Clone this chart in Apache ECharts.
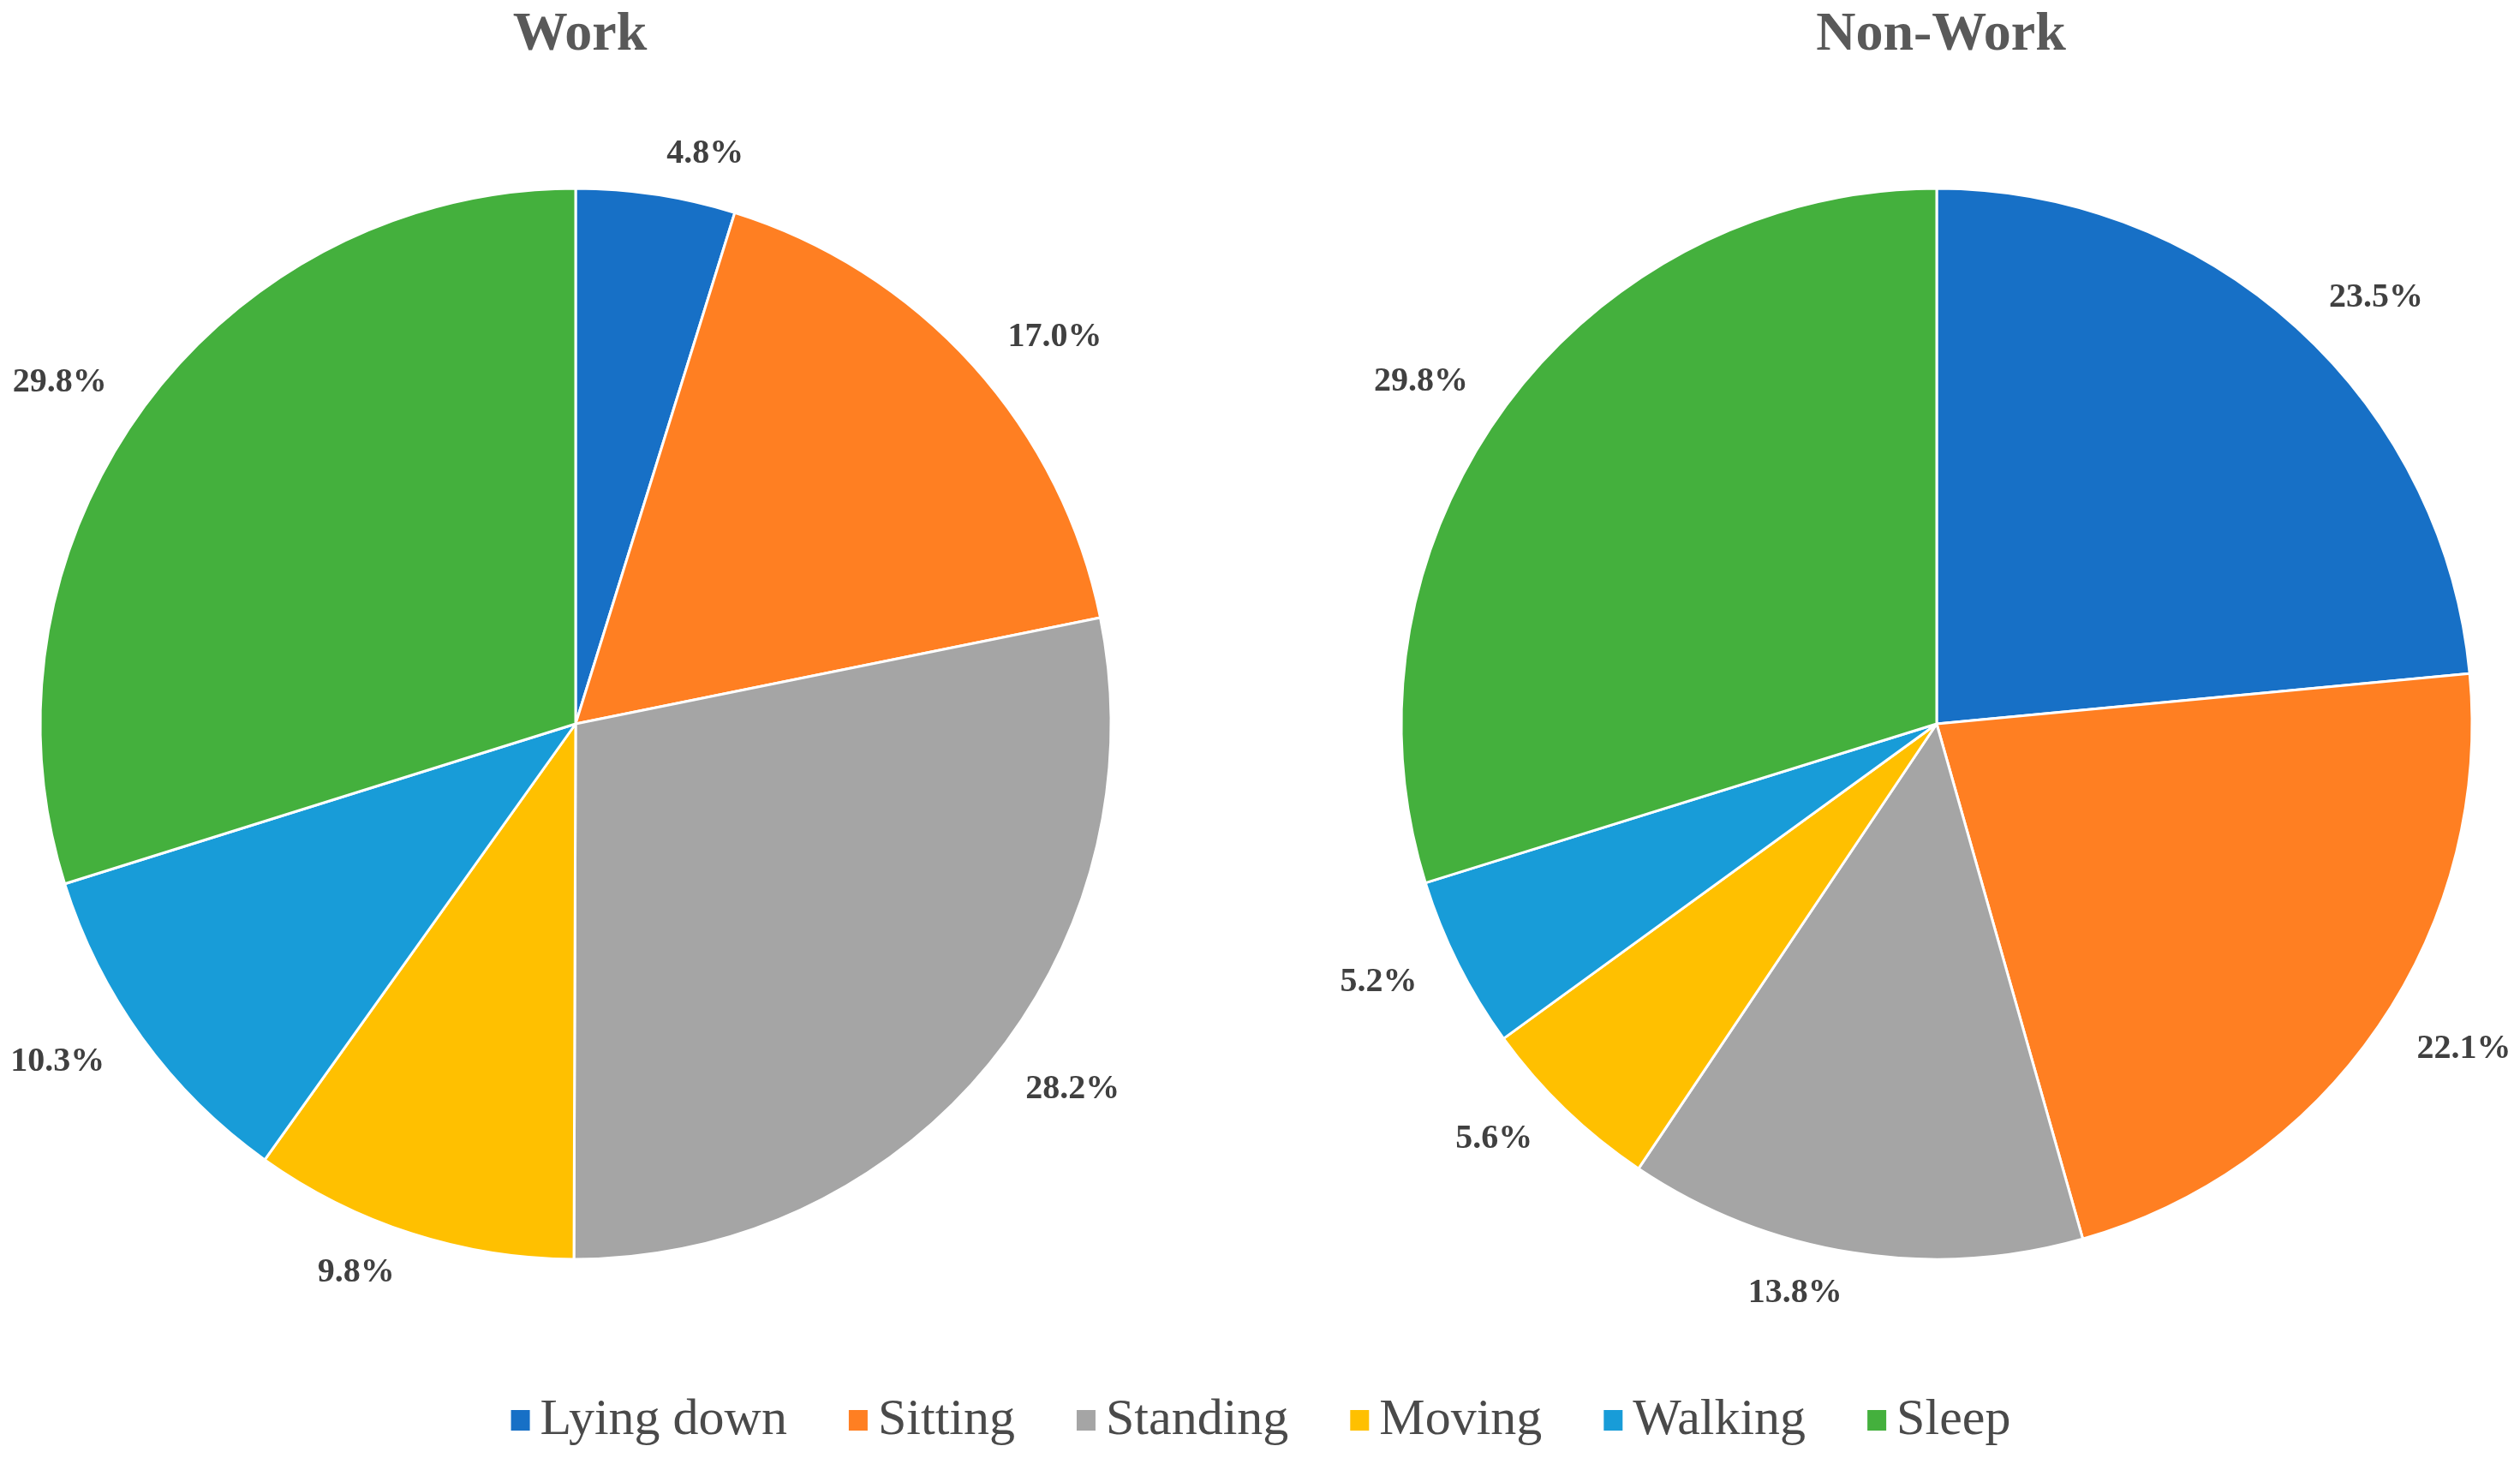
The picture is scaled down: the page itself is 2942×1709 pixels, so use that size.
<!DOCTYPE html>
<html>
<head>
<meta charset="utf-8">
<script src="https://cdn.jsdelivr.net/npm/echarts@6/dist/echarts.min.js"></script>
<style>
html,body{margin:0;padding:0;background:#fff;}
#chart{width:2942px;height:1709px;}
</style>
</head>
<body>
<div id="chart"></div>
<script>
const categories = ['Lying down', 'Sitting', 'Standing', 'Moving', 'Walking', 'Sleep'];
const workValues = [4.8, 17.0, 28.2, 9.8, 10.3, 29.8];
const nonWorkValues = [23.5, 22.1, 13.8, 5.6, 5.2, 29.8];
const chartTitles = ['Work', 'Non-Work'];
const colors = ['#1770C6', '#FF7F22', '#A5A5A5', '#FFC000', '#189CD8', '#44B03D'];

const serif = '"Liberation Serif", "DejaVu Serif", serif';

function toData(vals) {
  return categories.map((c, i) => ({ name: c, value: vals[i] }));
}

function pieSeries(vals, cx) {
  return {
    type: 'pie',
    center: [cx, 845],
    radius: 625,
    startAngle: 90,
    clockwise: true,
    avoidLabelOverlap: false,
    animation: false,
    data: toData(vals),
    itemStyle: { borderColor: '#ffffff', borderWidth: 3 },
    label: {
      show: true,
      position: 'outside',
      formatter: p => p.value.toFixed(1) + '%',
      fontFamily: serif,
      fontWeight: 'bold',
      fontSize: 40,
      color: '#404040'
    },
    labelLine: { show: false, length: 48, length2: 0 },
    emphasis: { disabled: true }
  };
}

const chart = echarts.init(document.getElementById('chart'), null, { renderer: 'canvas' });
chart.setOption({
  backgroundColor: '#ffffff',
  color: colors,
  title: [
    { text: chartTitles[0], left: 672, top: 4, textAlign: 'center',
      textStyle: { fontFamily: serif, fontWeight: 'bold', fontSize: 64, color: '#595959' } },
    { text: chartTitles[1], left: 2261, top: 4, textAlign: 'center',
      textStyle: { fontFamily: serif, fontWeight: 'bold', fontSize: 64, color: '#595959' } }
  ],
  legend: {
    data: categories,
    left: 'center',
    top: 1623,
    icon: 'rect',
    itemWidth: 24,
    itemHeight: 26,
    itemGap: 70,
    textStyle: { fontFamily: serif, fontSize: 60, color: '#4a4a4a', padding: [0, 0, 0, 6] }
  },
  series: [pieSeries(workValues, 672), pieSeries(nonWorkValues, 2261)]
});
</script>
</body>
</html>
